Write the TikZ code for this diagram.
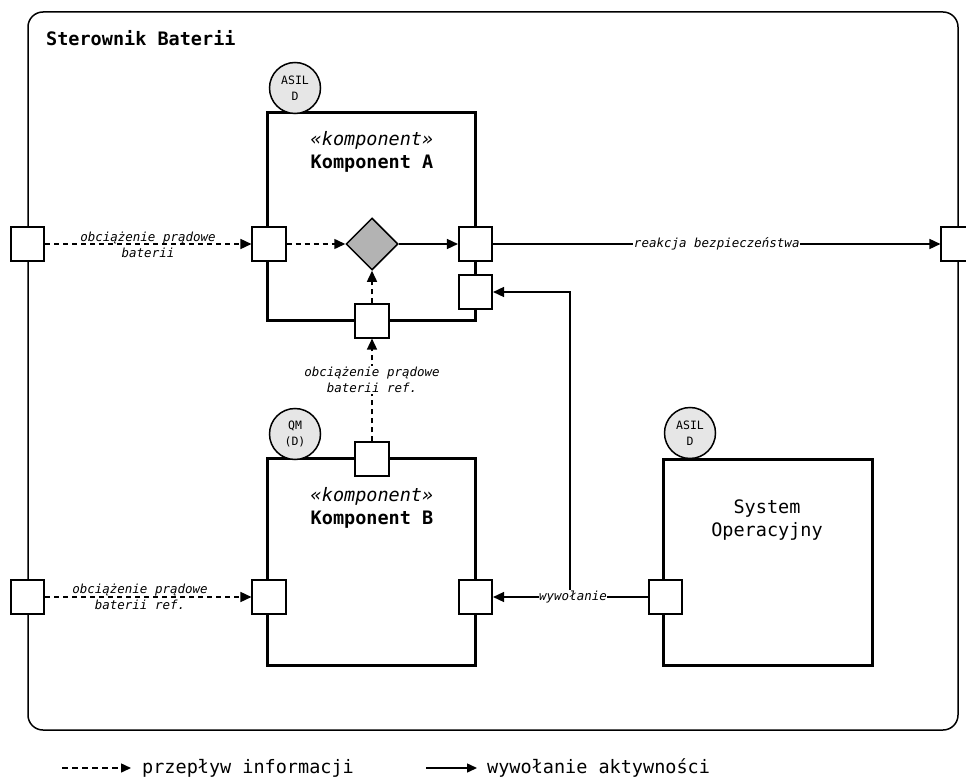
\documentclass[tikz,border=0pt]{standalone}
\usepackage{fontspec}
\setmainfont{DejaVu Sans Mono}
\setmonofont{DejaVu Sans Mono}
\usetikzlibrary{arrows.meta,shapes.geometric}

\definecolor{badgefill}{HTML}{E6E6E6}
\definecolor{gatefill}{HTML}{B3B3B3}

\tikzset{
  port/.style={draw, line width=1.6pt, fill=white, minimum size=33.5pt, inner sep=0pt},
  comp/.style={draw, line width=3pt, inner sep=0pt},
  badge/.style={circle, draw, line width=1.5pt, fill=badgefill, minimum size=51pt,
    inner sep=0pt, align=center, font=\fontsize{11.5}{16}\selectfont},
  gate/.style={diamond, draw, line width=1.5pt, fill=gatefill, minimum size=52pt, inner sep=0pt},
  flow/.style={line width=1.5pt, dash pattern=on 5pt off 4pt, -{Triangle[length=11pt,width=10pt]}},
  call/.style={line width=1.5pt, -{Triangle[length=11pt,width=10pt]}},
  lbl/.style={font=\fontsize{12.5}{16}\selectfont\itshape, align=center, inner sep=1pt},
  compname/.style={align=center, font=\fontsize{18.5}{23}\selectfont},
  legendtext/.style={anchor=west, inner sep=0pt, font=\fontsize{18.5}{22}\selectfont},
  legendarrow/.style={line width=1.5pt, -{Triangle[length=10pt,width=9pt]}},
}

\begin{document}
\begin{tikzpicture}[x=1pt, y=-1pt]
\useasboundingbox (0,0) rectangle (966,778);

% controller frame
\draw[line width=1.5pt, rounded corners=15pt] (28,12) rectangle (958,730);
\node[anchor=west, inner sep=0pt, font=\fontsize{18.5}{22}\selectfont\bfseries] (title) at (46,38) {Sterownik Baterii};

% components
\node[comp, minimum width=208pt, minimum height=207pt] (A) at (371,216.5) {};
\node[comp, minimum width=208pt, minimum height=207pt] (B) at (371,561.5) {};
\node[comp, minimum width=209pt, minimum height=206pt] (OS) at (767.5,562) {};

\node[compname] (Aname) at (372,152) {\textit{«komponent»}\\\textbf{Komponent A}};
\node[compname] (Bname) at (372,508) {\textit{«komponent»}\\\textbf{Komponent B}};
\node[compname] (OSname) at (767,520) {System\\Operacyjny};

% integrity badges
\node[badge] (asilA) at (295,88) {ASIL\\D};
\node[badge] (qmB) at (295,434) {QM\\(D)};
\node[badge] (asilOS) at (690,433) {ASIL\\D};

% decision element
\node[gate] (gate) at (372,244) {};

% ports
\node[port] (pOL1) at (27.5,244) {};
\node[port] (pOL2) at (27.5,597) {};
\node[port] (pOR) at (958,244) {};
\node[port] (pAL) at (269,244) {};
\node[port] (pAR) at (475.5,244) {};
\node[port] (pAR2) at (475.5,292) {};
\node[port] (pAB) at (372,321) {};
\node[port] (pBT) at (372,459) {};
\node[port] (pBL) at (269,597) {};
\node[port] (pBR) at (475.5,597) {};
\node[port] (pOS) at (665.5,597) {};

% information flows
\draw[flow] (pOL1) -- (pAL);
\node[lbl] (l1) at (148,245) {obciążenie prądowe\\baterii};
\draw[flow] (pAL) -- (gate);
\draw[flow] (pAB) -- (gate);
\draw[flow] (pBT) -- (pAB);
\node[lbl, fill=white] (l2) at (372,380) {obciążenie prądowe\\baterii ref.};
\draw[flow] (pOL2) -- (pBL);
\node[lbl] (l3) at (140,597) {obciążenie prądowe\\baterii ref.};

% activity calls
\draw[call] (gate) -- (pAR);
\draw[call] (pAR) -- (pOR) node[lbl, midway, fill=white, inner sep=0.5pt] (l4) {reakcja bezpieczeństwa};
\coordinate (split) at (570,597);
\draw[call] (split) |- (pAR2);
\draw[call] (pOS) -- (pBR);
\node[lbl, fill=white, inner sep=0.5pt] (l5) at (573,597) {wywołanie};

% legend
\coordinate (lg1s) at (62,768);
\coordinate (lg1e) at (131,768);
\draw[legendarrow, dash pattern=on 6pt off 4pt] (lg1s) -- (lg1e);
\node[legendtext] (lg1) at (142,768) {przepływ informacji};
\coordinate (lg2s) at (426,768);
\coordinate (lg2e) at (477,768);
\draw[legendarrow] (lg2s) -- (lg2e);
\node[legendtext] (lg2) at (487,768) {wywołanie aktywności};
\end{tikzpicture}
\end{document}
